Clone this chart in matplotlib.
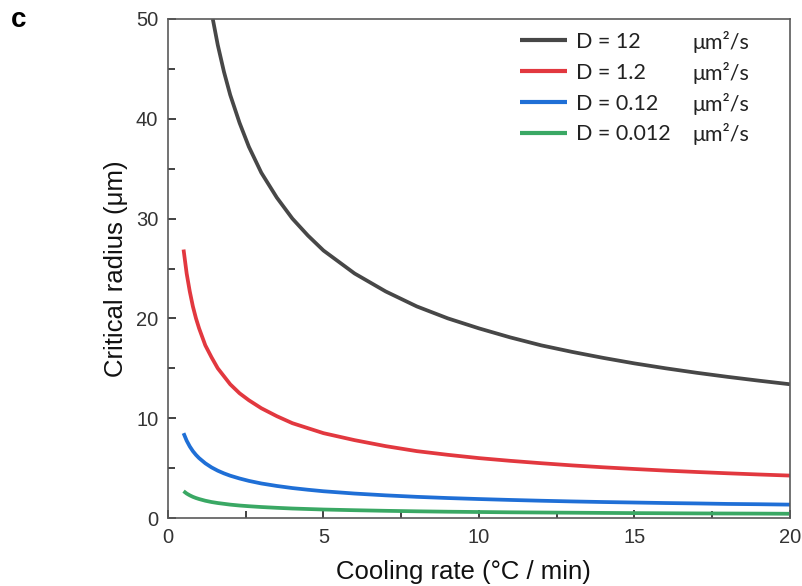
import matplotlib
matplotlib.use("Agg")
import matplotlib.pyplot as plt
from matplotlib.ticker import MultipleLocator

# Data (cooling rate in °C/min, critical radius in µm)
x_low = [0.5, 0.6, 0.7, 0.8, 0.9, 1.0, 1.2, 1.4, 1.6, 1.8, 2.0, 2.3, 2.6, 3.0, 3.5, 4.0, 4.5,
         5, 6, 7, 8, 9, 10, 11, 12, 13, 14, 15, 16, 17, 18, 19, 20]
r_d1p2 = [26.9, 24.5, 22.7, 21.2, 20.0, 19.0, 17.3, 16.1, 15.0, 14.2, 13.4, 12.5, 11.8, 11.0, 10.2,
          9.5, 9.0, 8.5, 7.8, 7.2, 6.7, 6.33, 6.0, 5.73, 5.49, 5.27, 5.08, 4.91, 4.75, 4.61, 4.48, 4.36, 4.25]
r_d0p12 = [8.5, 7.75, 7.17, 6.7, 6.32, 6.0, 5.48, 5.07, 4.74, 4.47, 4.24, 3.96, 3.72, 3.46, 3.21,
           3.0, 2.83, 2.68, 2.45, 2.27, 2.12, 2.0, 1.9, 1.81, 1.73, 1.66, 1.6, 1.55, 1.5, 1.46, 1.41, 1.38, 1.34]
r_d0p012 = [2.69, 2.45, 2.27, 2.12, 2.0, 1.9, 1.73, 1.6, 1.5, 1.42, 1.34, 1.25, 1.18, 1.1, 1.02,
            0.95, 0.9, 0.85, 0.78, 0.72, 0.67, 0.63, 0.6, 0.57, 0.55, 0.53, 0.51, 0.49, 0.475, 0.46, 0.45, 0.44, 0.425]
x_d12 = [1.44, 1.6, 1.8, 2.0, 2.3, 2.6, 3.0, 3.5, 4.0, 4.5, 5, 6, 7, 8, 9, 10, 11, 12, 13, 14, 15,
         16, 17, 18, 19, 20]
r_d12 = [50.0, 47.4, 44.7, 42.4, 39.6, 37.2, 34.6, 32.1, 30.0, 28.3, 26.8, 24.5, 22.7, 21.2, 20.0,
         19.0, 18.1, 17.3, 16.64, 16.04, 15.49, 15.0, 14.55, 14.14, 13.76, 13.4]

labels = ["D = 12", "D = 1.2", "D = 0.12", "D = 0.012"]
units = "\u03bcm\u00b2/s"
colors = ["#474747", "#e2383f", "#1f6fd6", "#3aa864"]

plt.rcParams['font.family'] = ['Liberation Sans', 'DejaVu Sans']

W, H = 803, 586
fig = plt.figure(figsize=(W/100, H/100), dpi=100)
ax = fig.add_axes([168/W, 68/H, (790-168)/W, (518-19)/H])

series = [(x_d12, r_d12), (x_low, r_d1p2), (x_low, r_d0p12), (x_low, r_d0p012)]
for (xs, ys), lab, c in zip(series, labels, colors):
    ax.plot(xs, ys, color=c, lw=2.7, label=lab, solid_capstyle='butt')

ax.set_xlim(0, 20)
ax.set_ylim(0, 50)
ax.xaxis.set_major_locator(MultipleLocator(5))
ax.xaxis.set_minor_locator(MultipleLocator(2.5))
ax.yaxis.set_major_locator(MultipleLocator(10))
ax.yaxis.set_minor_locator(MultipleLocator(5))
ax.tick_params(which='both', direction='in', color='#222222', width=1.2)
ax.tick_params(which='major', length=6, labelsize=14.5, labelcolor='#333333')
ax.tick_params(which='minor', length=5)
ax.tick_params(axis='x', pad=7)
ax.tick_params(axis='y', pad=7)
for s in ax.spines.values():
    s.set_color('#5a5a5a')
    s.set_linewidth(1.2)

ax.set_xlabel("Cooling rate (\u00b0C / min)", fontsize=18.5, color='#111111')
ax.xaxis.set_label_coords((463 - 168) / 622, -42 / 499)
ax.set_ylabel("Critical radius (\u03bcm)", fontsize=18.5, color='#111111', labelpad=6)

fs_leg = 15.5
leg = ax.legend(loc='upper left', bbox_to_anchor=(520/W, 1 - 32/H),
                bbox_transform=fig.transFigure, frameon=False,
                prop={'family': ['Lato', 'DejaVu Sans'], 'size': fs_leg},
                handlelength=2.2, handletextpad=0.4, labelspacing=0.5,
                borderpad=0, borderaxespad=0)
for t in leg.get_texts():
    t.set_color('#222222')
for h in leg.get_lines():
    h.set_linewidth(3.0)

fig.canvas.draw()
renderer = fig.canvas.get_renderer()
inv = fig.transFigure.inverted()
for t in leg.get_texts():
    bb = t.get_window_extent(renderer)
    ymid = (bb.y0 + bb.y1) / 2
    _, yf = inv.transform((0, ymid))
    fig.text(693/W, yf, units, fontsize=fs_leg, family=['Lato', 'DejaVu Sans'],
             color='#222222', va='center', ha='left')

fig.text(19/W, 1 - 20/H, "c", fontsize=20, fontweight='bold', va='center', ha='center')

fig.savefig("out.png", dpi=100)
